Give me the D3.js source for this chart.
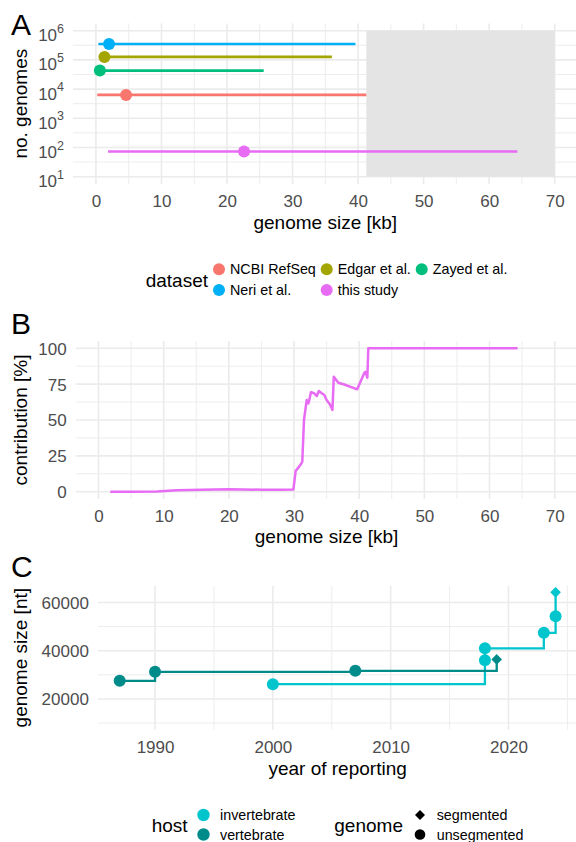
<!DOCTYPE html>
<html>
<head>
<meta charset="utf-8">
<script src="https://cdn.jsdelivr.net/npm/d3@7"></script>
<style>
  body { margin: 0; background: #fff; }
</style>
</head>
<body>
<div id="chart"></div>
<script>
// ---- panel A: genome size range per dataset ----
const datasets = ['NCBI RefSeq', 'Edgar et al.', 'Zayed et al.', 'Neri et al.', 'this study'];
const datasetColors = ['#F8766D', '#A3A500', '#00BF7D', '#00B0F6', '#E76BF3'];
const genomeCounts = [6300, 126000, 43000, 350000, 73];
const sizeMinKb = [0.2, 0.45, 0.05, 0.37, 1.85];
const sizeMaxKb = [41.26, 36.0, 25.6, 39.6, 64.3];
const sizeMedianKb = [4.6, 1.3, 0.6, 2.0, 22.6];
const shadedKb = [41.26, 70];
const shadedCounts = [10, 1e6];

// ---- panel B: contribution of this study ----
const contribKb = [1.8, 5, 9, 12, 16, 20, 25, 27.9, 29.9, 30.25, 30.66, 31.07, 31.27, 31.53,
  31.95, 32.2, 32.3, 32.6, 33.1, 33.5, 33.8, 34.25, 34.65, 35.0, 35.5, 35.9, 36.1, 36.8,
  37.6, 39.7, 40.8, 40.95, 41.25, 41.4, 64.3];
const contribPct = [0, 0, 0.2, 1.0, 1.3, 1.7, 1.4, 1.4, 1.5, 14.4, 16.8, 19.3, 20.9, 50,
  64, 61.6, 63, 69.3, 68.6, 66.7, 70.2, 68.6, 67.4, 64, 61, 57, 80.2, 76,
  74.9, 71.4, 83, 83.5, 79.5, 100, 100];

// ---- panel C: largest genome over time ----
const reportYear = [1987, 1990, 2007, 2019, 2000, 2018, 2018, 2023, 2024, 2024];
const reportSizeNt = [27500, 31250, 31670, 36400, 26130, 36000, 41000, 47400, 54300, 64200];
const reportHost = ['vertebrate', 'vertebrate', 'vertebrate', 'vertebrate',
  'invertebrate', 'invertebrate', 'invertebrate', 'invertebrate', 'invertebrate', 'invertebrate'];
const reportGenome = ['unsegmented', 'unsegmented', 'unsegmented', 'segmented',
  'unsegmented', 'unsegmented', 'unsegmented', 'unsegmented', 'unsegmented', 'segmented'];
const hostLevels = ['invertebrate', 'vertebrate'];
const hostColors = ['#00C5CD', '#008B8B'];
const genomeLevels = ['segmented', 'unsegmented'];

// ---- ticks ----
const kbTicks = [0, 10, 20, 30, 40, 50, 60, 70];
const kbMinor = [5, 15, 25, 35, 45, 55, 65];
const countTicks = [1e1, 1e2, 1e3, 1e4, 1e5, 1e6];
const countMinor = [1.5, 2.5, 3.5, 4.5, 5.5].map(e => Math.pow(10, e));
const pctTicks = [0, 25, 50, 75, 100];
const pctMinor = [12.5, 37.5, 62.5, 87.5];
const yearTicks = [1990, 2000, 2010, 2020];
const yearMinor = [1995, 2005, 2015, 2025];
const ntTicks = [20000, 40000, 60000];
const ntMinor = [10000, 30000, 50000];

const FONT = '"Liberation Sans", Arial, Helvetica, sans-serif';
const TICK_FONT = 17, TITLE_FONT = 19, LEGEND_FONT = 14.3, TAG_FONT = 30;
const GRID = '#EBEBEB';

const svg = d3.select('#chart').append('svg')
    .attr('width', 576).attr('height', 842)
    .attr('font-family', FONT);

// ggplot-like 5% expansion
function expand(lo, hi) {
    const d = (hi - lo) * 0.05;
    return [lo - d, hi + d];
}

// grid lines (minor first, then major)
function drawGrid(g, x, y, xMajor, xMinor, yMajor, yMinor) {
    const [x0, x1] = x.range();
    const [y0, y1] = y.range();
    const sets = [
        { v: xMinor, vert: true, w: 0.9 }, { v: yMinor, vert: false, w: 0.9 },
        { v: xMajor, vert: true, w: 1.6 }, { v: yMajor, vert: false, w: 1.6 }
    ];
    sets.forEach(s => {
        g.append('g').selectAll('line')
            .data(s.v)
            .enter()
            .append('line')
            .attr('x1', d => s.vert ? x(d) : x0)
            .attr('x2', d => s.vert ? x(d) : x1)
            .attr('y1', d => s.vert ? y0 : y(d))
            .attr('y2', d => s.vert ? y1 : y(d))
            .attr('stroke', GRID)
            .attr('stroke-width', s.w);
    });
}

function bottomAxis(g, x, ticks, yPos) {
    const ax = g.append('g')
        .attr('transform', `translate(0,${yPos})`)
        .call(d3.axisBottom(x).tickValues(ticks).tickSize(0).tickFormat(d3.format('d')));
    ax.select('.domain').remove();
    ax.attr('font-family', FONT).attr('font-size', TICK_FONT);
    ax.selectAll('text').attr('y', 23).attr('dy', null).attr('fill', '#4D4D4D');
    return ax;
}

function leftAxis(g, y, ticks, xPos, fmt) {
    const ax = g.append('g')
        .attr('transform', `translate(${xPos},0)`)
        .call(d3.axisLeft(y).tickValues(ticks).tickSize(0).tickPadding(9).tickFormat(fmt));
    ax.select('.domain').remove();
    ax.attr('font-family', FONT).attr('font-size', TICK_FONT);
    ax.selectAll('text').attr('dy', '0.35em').attr('fill', '#4D4D4D');
    return ax;
}

function titleX(g, text, x, y) {
    g.append('text').attr('x', x).attr('y', y)
        .attr('text-anchor', 'middle').attr('font-size', TITLE_FONT).text(text);
}

function titleY(g, text, x, y) {
    g.append('text').attr('transform', `translate(${x},${y}) rotate(-90)`)
        .attr('text-anchor', 'middle').attr('font-size', TITLE_FONT).text(text);
}

function tag(g, text, x, y) {
    g.append('text').attr('x', x).attr('y', y).attr('font-size', TAG_FONT).text(text);
}

// ================= panel A =================
function drawPanelA() {
    const g = svg.append('g');
    const x = d3.scaleLinear().domain(expand(0, 70)).range([73, 577.6]);
    const y = d3.scaleLog().domain([Math.pow(10, 0.75), Math.pow(10, 6.25)]).range([184, 23.4]);

    drawGrid(g, x, y, kbTicks, kbMinor, countTicks, countMinor);

    // region without reference genomes
    g.append('rect')
        .attr('x', x(shadedKb[0]))
        .attr('width', x(shadedKb[1]) - x(shadedKb[0]))
        .attr('y', y(shadedCounts[1]))
        .attr('height', y(shadedCounts[0]) - y(shadedCounts[1]))
        .attr('fill', '#E4E4E4');

    const idx = d3.range(datasets.length);
    g.append('g').selectAll('line')
        .data(idx)
        .enter()
        .append('line')
        .attr('x1', i => x(sizeMinKb[i]))
        .attr('x2', i => x(sizeMaxKb[i]))
        .attr('y1', i => y(genomeCounts[i]))
        .attr('y2', i => y(genomeCounts[i]))
        .attr('stroke', i => datasetColors[i])
        .attr('stroke-width', 2.7);

    g.append('g').selectAll('circle')
        .data(idx)
        .enter()
        .append('circle')
        .attr('cx', i => x(sizeMedianKb[i]))
        .attr('cy', i => y(genomeCounts[i]))
        .attr('r', 6)
        .attr('fill', i => datasetColors[i]);

    bottomAxis(g, x, kbTicks, 184);

    // log axis with superscript exponents
    const ax = leftAxis(g, y, countTicks, 73, () => '');
    ax.selectAll('.tick text').each(function(d) {
        const t = d3.select(this).attr('dy', null).attr('y', 10);
        t.append('tspan').text('10');
        t.append('tspan').attr('dy', -8.4).attr('font-size', 12.5)
            .text(Math.round(Math.log10(d)));
    });

    titleX(g, 'genome size [kb]', 325.3, 228.5);
    titleY(g, 'no. genomes', 26.5, 103.7);
    tag(g, 'A', 11, 35);

    // legend
    const lg = svg.append('g');
    lg.append('text').attr('x', 145.7).attr('y', 287)
        .attr('font-size', TITLE_FONT).text('dataset');
    const colX = [219, 326.7, 421.7];
    const rowY = [269.3, 290];
    const item = lg.selectAll('.key')
        .data(idx)
        .enter()
        .append('g')
        .attr('transform', i => `translate(${colX[i % 3]},${rowY[Math.floor(i / 3)]})`);
    item.append('circle').attr('r', 6).attr('fill', i => datasetColors[i]);
    item.append('text').attr('x', 11).attr('y', 5.1)
        .attr('font-size', LEGEND_FONT).text(i => datasets[i]);
}

// ================= panel B =================
function drawPanelB() {
    const g = svg.append('g');
    const x = d3.scaleLinear().domain(expand(0, 70)).range([75.7, 577.5]);
    const y = d3.scaleLinear().domain(expand(0, 100)).range([498.9, 341.1]);

    drawGrid(g, x, y, kbTicks, kbMinor, pctTicks, pctMinor);

    const line = d3.line()
        .x(i => x(contribKb[i]))
        .y(i => y(contribPct[i]));

    g.append('path')
        .attr('d', line(d3.range(contribKb.length)))
        .attr('fill', 'none')
        .attr('stroke', '#E76BF3')
        .attr('stroke-width', 2.5)
        .attr('stroke-linejoin', 'round');

    bottomAxis(g, x, kbTicks, 498.9);
    leftAxis(g, y, pctTicks, 75.7, d3.format('d'));

    titleX(g, 'genome size [kb]', 326.6, 543);
    titleY(g, 'contribution [%]', 26.5, 420);
    tag(g, 'B', 11, 334);
}

// ================= panel C =================
function drawPanelC() {
    const g = svg.append('g');
    const x = d3.scaleLinear().domain(expand(d3.min(reportYear), d3.max(reportYear))).range([97.9, 577.4]);
    const y = d3.scaleLinear().domain(expand(10000, d3.max(reportSizeNt))).range([729.6, 585.8]);
    const color = d3.scaleOrdinal().domain(hostLevels).range(hostColors);

    drawGrid(g, x, y, yearTicks, yearMinor, ntTicks, ntMinor);

    const idx = d3.range(reportYear.length);
    const step = d3.line()
        .curve(d3.curveStepAfter)
        .x(i => x(reportYear[i]))
        .y(i => y(reportSizeNt[i]));

    hostLevels.forEach(h => {
        const rows = idx.filter(i => reportHost[i] === h)
            .sort((a, b) => reportYear[a] - reportYear[b] || reportSizeNt[a] - reportSizeNt[b]);
        g.append('path')
            .attr('d', step(rows))
            .attr('fill', 'none')
            .attr('stroke', color(h))
            .attr('stroke-width', 2.3);
    });

    const diamond = d3.symbol().type(d3.symbolSquare).size(56)();
    idx.forEach(i => {
        if (reportGenome[i] === 'segmented') {
            g.append('path')
                .attr('d', diamond)
                .attr('transform', `translate(${x(reportYear[i])},${y(reportSizeNt[i])}) rotate(45)`)
                .attr('fill', color(reportHost[i]));
        } else {
            g.append('circle')
                .attr('cx', x(reportYear[i]))
                .attr('cy', y(reportSizeNt[i]))
                .attr('r', 6)
                .attr('fill', color(reportHost[i]));
        }
    });

    bottomAxis(g, x, yearTicks, 729.6);
    leftAxis(g, y, ntTicks, 97.9, d3.format('d'));

    titleX(g, 'year of reporting', 337.6, 775);
    titleY(g, 'genome size [nt]', 26.5, 657.7);
    tag(g, 'C', 11, 577);

    // legends
    const lg = svg.append('g');
    const rowY = [815, 834.5];
    lg.append('text').attr('x', 151.7).attr('y', 831.5)
        .attr('font-size', TITLE_FONT).text('host');
    hostLevels.forEach((h, k) => {
        lg.append('circle').attr('cx', 203.5).attr('cy', rowY[k]).attr('r', 6.2).attr('fill', hostColors[k]);
        lg.append('text').attr('x', 220).attr('y', rowY[k] + 5.1)
            .attr('font-size', LEGEND_FONT).text(h);
    });

    lg.append('text').attr('x', 334.3).attr('y', 831.5)
        .attr('font-size', TITLE_FONT).text('genome');
    genomeLevels.forEach((s, k) => {
        if (s === 'segmented') {
            lg.append('path').attr('d', d3.symbol().type(d3.symbolSquare).size(50)())
                .attr('transform', `translate(420,${rowY[k]}) rotate(45)`).attr('fill', '#000');
        } else {
            lg.append('circle').attr('cx', 420).attr('cy', rowY[k]).attr('r', 5.3).attr('fill', '#000');
        }
        lg.append('text').attr('x', 436.7).attr('y', rowY[k] + 5.1)
            .attr('font-size', LEGEND_FONT).text(s);
    });
}

drawPanelA();
drawPanelB();
drawPanelC();
</script>
</body>
</html>
